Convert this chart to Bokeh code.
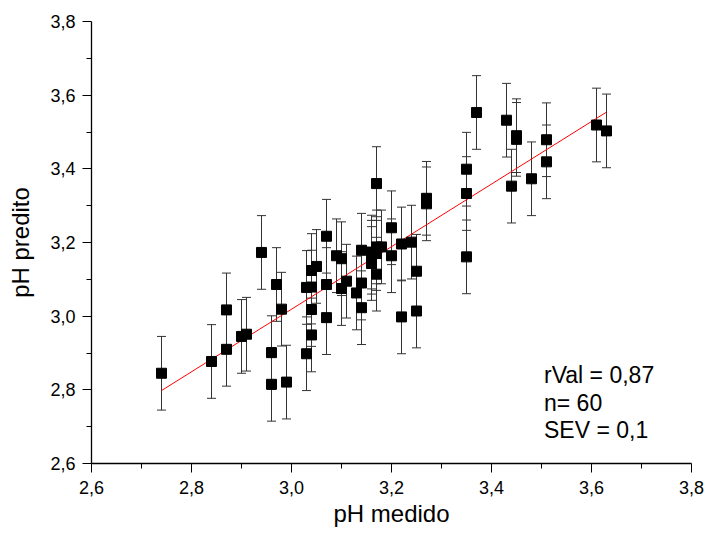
from bokeh.plotting import figure
from bokeh.models import (Range1d, FixedTicker, CustomJSTickFormatter,
                          Whisker, TeeHead, ColumnDataSource, Label)
from bokeh.embed import file_html
from bokeh.resources import INLINE

# ---- data ----
ph_medido = [2.74, 2.84, 2.87, 2.87, 2.90, 2.91, 2.94, 2.97, 2.98, 2.96,
             2.96, 2.99, 3.03, 3.04, 3.05, 3.04, 3.04, 3.04, 3.03, 3.07,
             3.07, 3.07, 3.09, 3.10, 3.10, 3.11, 3.13, 3.14, 3.14, 3.14,
             3.17, 3.16, 3.17, 3.18, 3.16, 3.17, 3.20, 3.20, 3.22, 3.24,
             3.25, 3.22, 3.25, 3.27, 3.27, 3.35, 3.35, 3.35, 3.37, 3.43,
             3.45, 3.45, 3.44, 3.48, 3.51, 3.51, 3.61, 3.63, 3.17, 3.16]
ph_predito = [2.845, 2.877, 3.017, 2.910, 2.945, 2.951, 3.173, 3.086, 3.019, 2.901,
              2.815, 2.821, 3.078, 3.124, 3.135, 3.079, 3.018, 2.949, 2.898, 3.217,
              3.086, 2.996, 3.164, 3.156, 3.075, 3.095, 3.063, 3.179, 3.090, 3.023,
              3.360, 3.174, 3.188, 3.188, 3.143, 3.114, 3.240, 3.164, 3.196, 3.201,
              3.122, 2.998, 3.014, 3.305, 3.320, 3.399, 3.333, 3.161, 3.553, 3.532,
              3.490, 3.480, 3.353, 3.373, 3.479, 3.419, 3.519, 3.503, 3.170, 3.160]
sev = 0.1
fit_x = [2.74, 3.63]
fit_y = [2.798, 3.554]
major_ticks = [2.6, 2.8, 3.0, 3.2, 3.4, 3.6, 3.8]
minor_ticks = [2.7, 2.9, 3.1, 3.3, 3.5, 3.7]
stats_lines = ["rVal = 0,87", "n= 60", "SEV = 0,1"]

lower = [v - sev for v in ph_predito]
upper = [v + sev for v in ph_predito]
src = ColumnDataSource(dict(x=ph_medido, y=ph_predito, lower=lower, upper=upper))

p = figure(width=705, height=535, output_backend="svg", toolbar_location=None,
           x_range=Range1d(2.6, 3.8), y_range=Range1d(2.6, 3.8),
           min_border_left=91, min_border_right=14, min_border_top=21,
           min_border_bottom=72)
p.outline_line_color = None
p.xgrid.visible = False
p.ygrid.visible = False
p.background_fill_color = "white"
p.border_fill_color = "white"

fmt = CustomJSTickFormatter(code="return tick.toFixed(1).replace('.', ',');")
FONT = "Liberation Sans"
for ax in (p.xaxis[0], p.yaxis[0]):
    ax.ticker = FixedTicker(ticks=major_ticks, minor_ticks=minor_ticks)
    ax.formatter = fmt
    ax.axis_line_color = "black"
    ax.axis_line_width = 1.3
    ax.major_tick_line_color = "black"
    ax.minor_tick_line_color = "black"
    ax.major_tick_in = 0
    ax.major_tick_out = 9
    ax.minor_tick_in = 0
    ax.minor_tick_out = 5
    ax.major_label_text_font = FONT
    ax.major_label_text_font_size = "18px"
    ax.major_label_text_color = "black"
    ax.axis_label_text_font = FONT
    ax.axis_label_text_font_size = "24px"
    ax.axis_label_text_font_style = "normal"
    ax.axis_label_text_color = "black"

p.xaxis.axis_label = "pH medido"
p.yaxis.axis_label = "pH predito"
p.xaxis.major_label_standoff = 8
p.xaxis.axis_label_standoff = 3
p.yaxis.major_label_standoff = 7
p.yaxis.axis_label_standoff = 13

wh = Whisker(source=src, base="x", upper="upper", lower="lower",
             line_color="#333333", line_width=1,
             upper_head=TeeHead(size=9, line_color="#333333", line_width=1),
             lower_head=TeeHead(size=9, line_color="#333333", line_width=1))
p.add_layout(wh)

p.line(fit_x, fit_y, line_color="red", line_width=1)
p.scatter("x", "y", source=src, marker="square", size=10,
          fill_color="black", line_color="black")

for txt, yv in zip(stats_lines, [2.839, 2.763, 2.690]):
    p.add_layout(Label(x=3.505, y=yv, text=txt, text_font=FONT,
                       text_font_size="23px", text_baseline="middle",
                       text_color="black"))

open("out.html", "w").write(file_html(p, INLINE))
